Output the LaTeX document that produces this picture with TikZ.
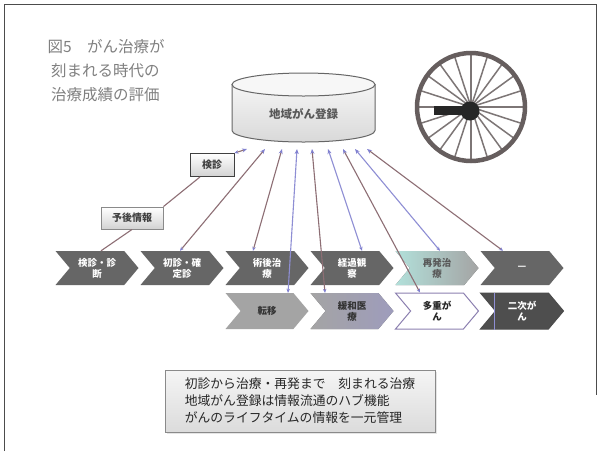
\documentclass[tikz,border=0pt]{standalone}
\usepackage{fontspec}
\setmainfont{Noto Sans CJK JP}
\usetikzlibrary{shapes.symbols,arrows.meta,shadows}

\definecolor{titlegray}{HTML}{808080}
\definecolor{chevdark}{HTML}{666666}
\definecolor{chevlight}{HTML}{A4A4A4}
\definecolor{chevlav}{HTML}{9E9CBC}
\definecolor{chevcyan}{HTML}{B2E0DA}
\definecolor{chevblack}{HTML}{4E4E4E}
\definecolor{lavborder}{HTML}{8C80B0}
\definecolor{linebrown}{HTML}{8D6E74}
\definecolor{lineblue}{HTML}{8E8ED4}
\definecolor{tipblue}{HTML}{8080D0}
\definecolor{rimgray}{HTML}{665E5E}
\definecolor{boxedge}{HTML}{8A8A8A}

\tikzset{
  chev/.style={shape=signal, signal to=east, signal from=west,
    signal pointer angle=100, minimum width=83pt, minimum height=34pt,
    inner sep=1pt, draw=none, fill=chevdark, text=white, align=center,
    font=\bfseries\fontsize{9.5}{11}\selectfont},
  chevlow/.style={chev, minimum height=36pt},
  link/.style={line width=1.1pt,
    {Stealth[length=4pt,width=3.5pt,color=tipblue]}-{Stealth[length=5pt,width=4pt,color=tipblue]}},
  tag/.style={draw=#1, line width=0.9pt, inner sep=2pt,
    top color=white, bottom color=gray!35,
    font=\bfseries\fontsize{10}{12}\selectfont, text=black!75},
  spoke/.style={line width=1.5pt, draw=rimgray!85},
}

\begin{document}
\begin{tikzpicture}[x=1pt,y=-1pt]
\useasboundingbox (0,0) rectangle (600,451);
\fill[white] (0,0) rectangle (600,451);

% frame
\draw[black!70, line width=0.8pt] (4,451) -- (4,4) -- (596,4) -- (596,395);

% title
\node[anchor=north west, align=left, text=titlegray,
      font=\fontsize{15.5}{24}\selectfont] (title) at (44,36)
  {図5　がん治療が\\\ 刻まれる時代の\\\ 治療成績の評価};

% cancer registry cylinder
\path[draw=black!60, line width=1pt, top color=gray!8, bottom color=gray!30]
  (232,84.5) -- (232,130.5)
  arc[start angle=180, end angle=0, x radius=71.5, y radius=11.5]
  -- (375,84.5) -- cycle;
\draw[black!60, line width=1pt, fill=gray!6]
  (303.5,84.5) ellipse[x radius=71.5, y radius=11.5];
\node[font=\bfseries\fontsize{11.5}{13}\selectfont, text=black!65] (reg) at (303.5,114) {地域がん登録};
\foreach \i/\x in {1/247,2/265,3/282,4/297,5/312,6/328,7/343,8/355,9/367}
  \coordinate (r\i) at (\x,149);

% wheel
\coordinate (w) at (471,107);
\fill[white] (w) circle[radius=55];
\foreach \a in {0,18,...,342}
  \draw[spoke] (w) -- ++(\a:54);
\draw[rimgray, line width=4.5pt] (w) circle[radius=54];
\fill[black!85] (434,106) rectangle (468,115);
\fill[black!85] (470,111) circle[radius=9.5];

% side boxes
\node[tag=black!75, minimum width=44pt, minimum height=23pt] (ken) at (212,165) {検診};
\node[tag=boxedge, minimum width=62pt, minimum height=22pt] (yogo) at (132,218) {予後情報};

% upper row of stages
\node[chev] (c1) at (97,268)  {検診・診\\断};
\node[chev] (c2) at (182,268) {初診・確\\定診};
\node[chev] (c3) at (267,268) {術後治\\療};
\node[chev] (c4) at (352,268) {経過観\\察};
\node[chev, left color=chevcyan, right color=chevlight, text=black!65] (c5) at (437,268) {再発治\\療};
\node[chev] (c6) at (522,268) {—};

% lower row of stages
\node[chevlow, fill=chevlight, text=black!80] (b1) at (267,311) {転移};
\node[chevlow, left color=chevlight, right color=chevlav, text=black!80] (b2) at (352,311) {緩和医\\療};
\node[chevlow, fill=white, draw=lavborder, line width=1pt, text=black!85,
      font=\bfseries\fontsize{9.5}{11}\selectfont] (b3) at (437,311) {多重が\\ん};
\node[chevlow, fill=chevblack, draw=black!70, line width=1pt] (b4) at (522,311) {二次が\\ん};
\draw[lineblue, line width=1pt] ([xshift=-28pt]b4.north) -- ([xshift=-28pt]b4.south);

% information flows into the registry
\draw[linebrown, line width=1.1pt] ([xshift=4pt]c1.north) -- (yogo.south);
\draw[linebrown, line width=1.1pt] (yogo.north east) -- ([xshift=-12pt]ken.south);
\draw[link, draw=linebrown] (ken.north east) -- (r1);
\draw[link, draw=linebrown] ([xshift=-2pt]c2.north) -- (r2);
\draw[link, draw=linebrown] ([xshift=-14pt]c3.north) -- (r3);
\draw[link, draw=lineblue]  ([xshift=21pt]b1.north) -- (r4);
\draw[link, draw=linebrown] ([xshift=-27pt]b2.north) -- (r5);
\draw[link, draw=lineblue]  ([xshift=10pt]c4.north) -- (r6);
\draw[link, draw=linebrown] ([xshift=-17pt]b3.north) -- (r7);
\draw[link, draw=lineblue]  ([xshift=3pt]c5.north) -- (r8);
\draw[link, draw=linebrown] ([xshift=-19pt]c6.north) -- (r9);

% summary
\node[draw=boxedge, line width=0.9pt, top color=gray!8, bottom color=gray!28,
      drop shadow={shadow xshift=1.5pt, shadow yshift=-1.5pt, fill=gray!40},
      minimum width=270pt, minimum height=62pt, align=left, inner sep=4pt,
      text=black!85, font=\fontsize{12.8}{17}\selectfont] (sum) at (300,401)
  {初診から治療・再発まで　刻まれる治療\\地域がん登録は情報流通のハブ機能\\がんのライフタイムの情報を一元管理};
\end{tikzpicture}
\end{document}
